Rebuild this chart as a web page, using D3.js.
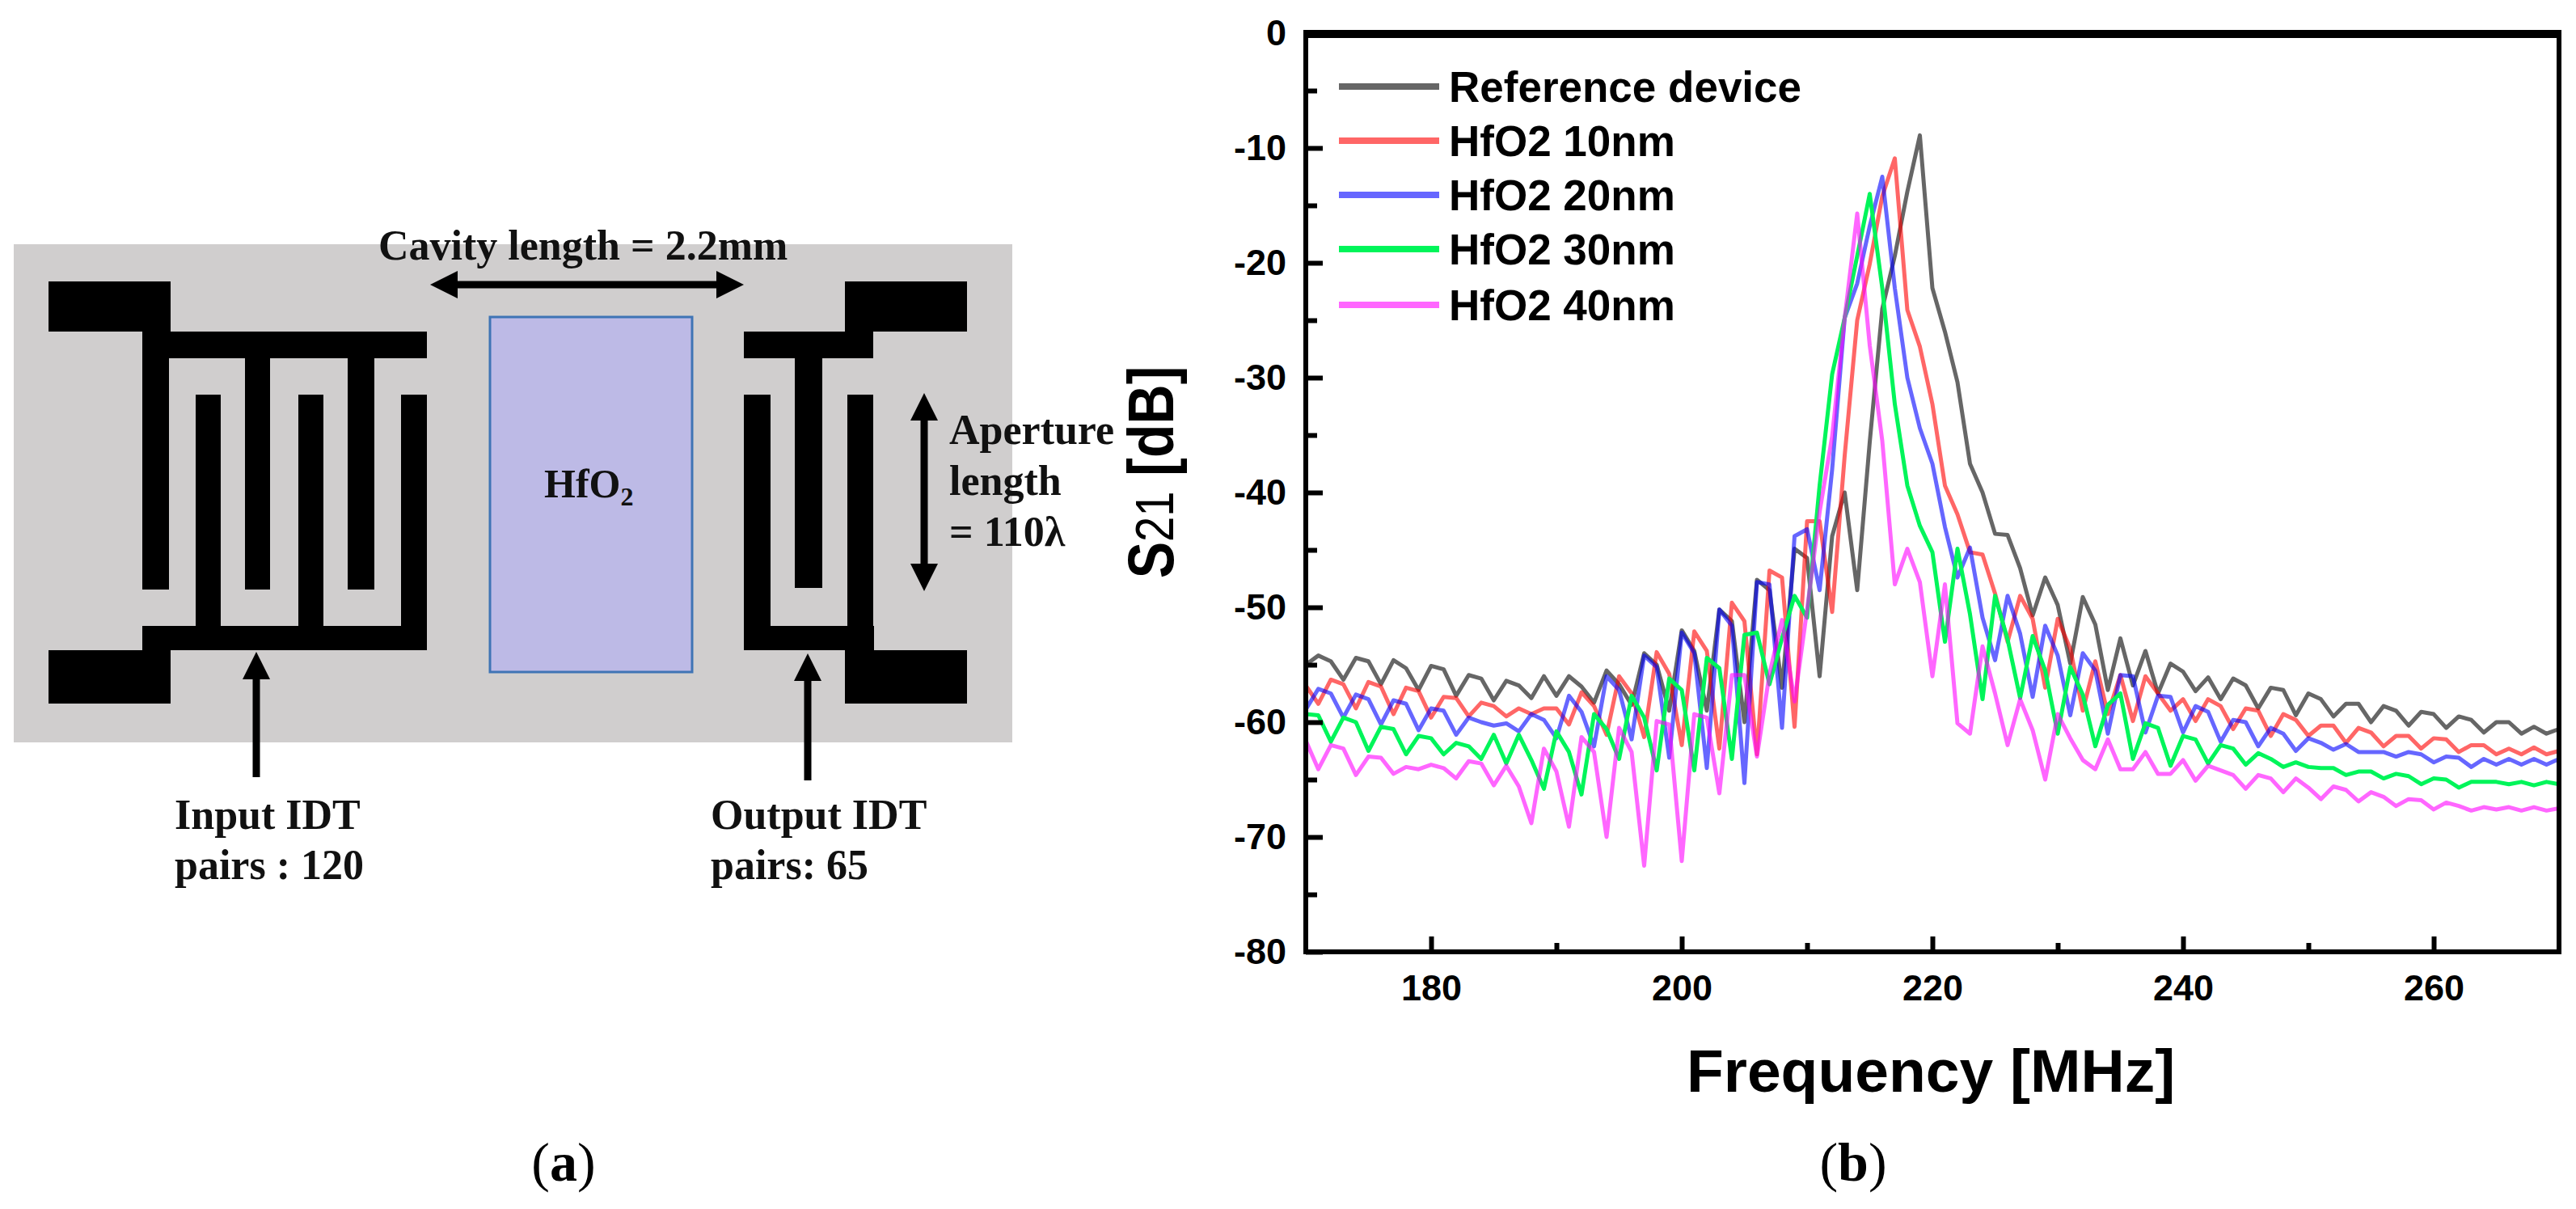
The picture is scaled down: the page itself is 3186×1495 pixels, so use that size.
<!DOCTYPE html>
<meta charset="utf-8">
<style type="text/css">
body { margin: 0; background: #fff; }
svg { display: block; }
.tick-label { font-family: "Liberation Sans", Arial, sans-serif; font-weight: bold; font-size: 45px; fill: #000; }
.legend-label { font-family: "Liberation Sans", Arial, sans-serif; font-weight: bold; font-size: 53px; fill: #000; }
.axis-title { font-family: "Liberation Sans", Arial, sans-serif; font-weight: bold; fill: #000; }
.note { font-family: "Liberation Serif", "Times New Roman", serif; font-weight: bold; font-size: 52px; fill: #111; }
.caption { font-family: "Liberation Serif", "Times New Roman", serif; font-size: 68px; fill: #000; }
.line { fill: none; stroke-width: 5; stroke-linejoin: round; }
</style>
<body>
<script src="https://cdn.jsdelivr.net/npm/d3@7"></script>
<script>

// S21 readings, one per MHz from 170 to 270
var freqStart = 170;
var reference = [
  -55,-54.2,-54.7,-56.3,-54.4,-54.7,-56.7,-54.6,-55.3,-57.2,
  -55.1,-55.4,-57.7,-55.9,-56.2,-58.1,-56.4,-56.8,-57.9,-56,
  -57.7,-56,-56.9,-58.3,-55.5,-56.7,-58.5,-54,-55,-59,
  -52,-53.8,-59,-50.2,-51.2,-60,-47.6,-48.5,-57,-44.9,
  -45.7,-56,-43.8,-40,-48.5,-35.6,-24,-19.4,-13.8,-8.9,
  -22.2,-26,-30.4,-37.5,-40,-43.6,-43.7,-46.6,-50.7,-47.4,
  -49.8,-54.9,-49.1,-51.5,-57.2,-52.7,-56.8,-53.8,-57.5,-54.9,
  -55.6,-57.3,-56.1,-58,-56.2,-56.8,-58.8,-57,-57.2,-59.4,
  -57.5,-58,-59.5,-58.4,-58.4,-60,-58.6,-59,-60.3,-59.1,
  -59.3,-60.5,-59.5,-59.8,-60.9,-60,-60,-61,-60.4,-61,
  -60.6];
var hfo10 = [
  -56.8,-58.4,-56.3,-56.7,-58.8,-56.5,-56.9,-59.3,-57,-57.3,
  -59.6,-57.8,-57.9,-59.5,-58.3,-58.6,-59.5,-58.8,-59.3,-58.8,
  -58.8,-60.2,-57.4,-58.6,-61.1,-56,-57.5,-61.3,-53.9,-55.8,
  -62,-52.1,-53.8,-62.3,-49.6,-51.2,-62.8,-46.8,-47.4,-60.4,
  -42.5,-42.5,-50.4,-36.8,-25,-20.1,-14.2,-10.9,-24.1,-27.3,
  -32.3,-39.4,-41.9,-45.2,-45.4,-48.8,-53,-49,-51,-57,
  -51,-53.6,-59,-54.7,-59.3,-55.9,-59.9,-56,-57.5,-59,
  -58,-59.9,-58,-58.6,-60.6,-58.8,-59,-61.2,-59.3,-59.8,
  -61.2,-60.3,-60.3,-61.8,-60.5,-60.9,-62.1,-61.2,-61.2,-62.3,
  -61.4,-61.5,-62.6,-62,-62,-62.8,-62.3,-62.8,-62.2,-62.8,
  -62.5];
var hfo20 = [
  -58.9,-57.1,-57.5,-59.6,-57.6,-58,-60.2,-58.1,-58.4,-60.7,
  -58.8,-59,-61.1,-59.6,-60,-60.3,-60.1,-60.8,-59.3,-59.8,
  -61.4,-57.7,-59.1,-62.1,-56,-57.2,-61.5,-54.2,-55.2,-63.1,
  -52.2,-54,-64,-50.2,-51.6,-65.3,-47.8,-48,-60.5,-43.8,
  -43.2,-48.5,-38,-24.8,-21.8,-16.8,-12.5,-22.2,-30,-34.4,
  -37.5,-43,-47.4,-44.8,-50.9,-54.6,-49,-52.3,-57.8,-51.6,
  -54.2,-59.4,-54,-55.5,-61,-55.9,-56,-60.9,-57.7,-57.8,
  -60.9,-58.6,-59.1,-61.7,-59.8,-60,-62.1,-60.5,-61,-62.5,
  -61.4,-61.8,-62.4,-61.9,-62.6,-62.6,-62.6,-63,-62.6,-62.8,
  -63.5,-63,-63.1,-63.9,-63.2,-63.7,-63.2,-63.7,-63.2,-63.7,
  -63.2];
var hfo30 = [
  -59.3,-59.4,-61.7,-59.6,-60,-62.5,-60.4,-60.6,-62.8,-61.2,
  -61.4,-62.8,-61.8,-62.1,-63.2,-61.1,-63.6,-61.1,-63.3,-65.8,
  -60.8,-62.6,-66.3,-59.3,-60.6,-63.2,-57.7,-59.6,-64.2,-56.2,
  -57.2,-64.2,-54.4,-55.3,-63.2,-52.4,-52.2,-56.7,-52.7,-49,
  -50.9,-39.4,-29.7,-24.8,-19.4,-14,-22.2,-32.3,-39.4,-42.9,
  -45.2,-53,-44.9,-50.6,-58,-49,-52.8,-57.9,-52.5,-55.5,
  -61,-55.2,-57.6,-62.1,-58.5,-57.5,-63.2,-60.1,-60.5,-63.8,
  -61.2,-61.5,-63.6,-62,-62.3,-63.7,-62.7,-63.2,-63.9,-63.5,
  -63.9,-64,-64,-64.6,-64.3,-64.3,-64.9,-64.5,-64.7,-65.4,
  -64.9,-65,-65.7,-65.2,-65.2,-65.2,-65.4,-65.2,-65.5,-65.2,
  -65.4];
var hfo40 = [
  -61.6,-64.1,-62,-62.3,-64.6,-63,-63.1,-64.5,-63.9,-64.1,
  -63.7,-64,-64.9,-63.4,-63.6,-65.5,-63.8,-65.6,-68.8,-62.3,
  -64.3,-69.1,-61.3,-62.6,-70,-60.5,-62.6,-72.5,-59.9,-60.2,
  -72.1,-59.3,-59.6,-66.2,-55.9,-55.9,-63,-55.8,-51.1,-58.2,
  -50.2,-41.7,-35.1,-24.8,-15.7,-27.2,-35.5,-48,-44.9,-47.8,
  -56,-48,-60.1,-61,-53.4,-57.5,-62,-58,-60.7,-65,
  -59.3,-61.4,-63.3,-64.1,-61.5,-64.1,-64.1,-62.6,-64.5,-64.5,
  -63.3,-65.1,-63.8,-64.2,-64.6,-65.8,-64.6,-64.9,-66.1,-64.9,
  -65.7,-66.7,-65.6,-65.9,-66.9,-66.1,-66.5,-67.3,-66.7,-66.8,
  -67.6,-67,-67.3,-67.7,-67.4,-67.6,-67.4,-67.7,-67.4,-67.7,
  -67.5];

var seriesNames = ["Reference device", "HfO2 10nm", "HfO2 20nm", "HfO2 30nm", "HfO2 40nm"];
var seriesValues = [reference, hfo10, hfo20, hfo30, hfo40];
var seriesColors = ["#000000", "#ff0000", "#0000ff", "#00f55a", "#ff00ff"];
var seriesOpacity = [0.6, 0.6, 0.6, 1, 0.6];

var xMajor = [180, 200, 220, 240, 260];
var xMinor = [190, 210, 230, 250];
var yMajor = [0, -10, -20, -30, -40, -50, -60, -70, -80];
var yMinor = [-5, -15, -25, -35, -45, -55, -65, -75];

var svg = d3.select("body").append("svg").attr("width", 3186).attr("height", 1495);

// ---------- panel (b)
var xScale = d3.scaleLinear().domain([170, 270]).range([1615, 3165]);
var yScale = d3.scaleLinear().domain([0, -80]).range([41, 1177]);

var line = d3.line()
  .x(function(d, i) { return xScale(freqStart + i); })
  .y(function(d) { return yScale(d); });

var chart = svg.append("g");
seriesValues.forEach(function(values, i) {
  chart.append("path").datum(values).attr("class", "line")
    .attr("stroke", seriesColors[i]).attr("stroke-opacity", seriesOpacity[i])
    .attr("d", line);
});

function tickStyle(g, thick) {
  g.select(".domain").remove();
  g.selectAll(".tick line").attr("stroke", "#000").attr("stroke-width", thick);
}

// axes, ticks point inward
svg.append("g").attr("transform", "translate(1615,0)")
  .call(d3.axisLeft(yScale).tickValues(yMajor).tickSize(-21).tickPadding(24).tickFormat(function(d) { return String(d); }))
  .call(tickStyle, 6)
  .selectAll("text").attr("class", "tick-label").attr("font-family", null).attr("font-size", null);
svg.append("g").attr("transform", "translate(1615,0)")
  .call(d3.axisLeft(yScale).tickValues(yMinor).tickSize(-14).tickFormat(""))
  .call(tickStyle, 6);
svg.append("g").attr("transform", "translate(0,1177)")
  .call(d3.axisBottom(xScale).tickValues(xMajor).tickSize(-19).tickPadding(28).tickFormat(function(d) { return String(d); }))
  .call(tickStyle, 6)
  .selectAll("text").attr("class", "tick-label").attr("font-family", null).attr("font-size", null);
svg.append("g").attr("transform", "translate(0,1177)")
  .call(d3.axisBottom(xScale).tickValues(xMinor).tickSize(-11).tickFormat(""))
  .call(tickStyle, 6);

// frame, the top edge is heavier in the original
svg.append("rect").attr("x", 1612).attr("y", 37).attr("width", 1555).attr("height", 10).attr("fill", "#000");
svg.append("rect").attr("x", 1612).attr("y", 37).attr("width", 6).attr("height", 1143).attr("fill", "#000");
svg.append("rect").attr("x", 3162).attr("y", 37).attr("width", 6).attr("height", 1143).attr("fill", "#000");
svg.append("rect").attr("x", 1612).attr("y", 1174).attr("width", 1556).attr("height", 6).attr("fill", "#000");

// legend
var legendY = [107, 174, 241, 308, 377];
seriesNames.forEach(function(name, i) {
  svg.append("line").attr("x1", 1656).attr("x2", 1780).attr("y1", legendY[i]).attr("y2", legendY[i])
    .attr("stroke", seriesColors[i]).attr("stroke-opacity", seriesOpacity[i]).attr("stroke-width", 8);
  svg.append("text").attr("class", "legend-label").attr("x", 1792).attr("y", legendY[i] + 19).text(name);
});

// axis titles, squeezed along the reading direction like the original
var yTitle = svg.append("text").attr("class", "axis-title")
  .attr("transform", "translate(1451,584) rotate(-90) scale(0.85,1)")
  .attr("text-anchor", "middle").style("font-size", "80px");
yTitle.append("tspan").text("S");
yTitle.append("tspan").style("font-weight", "normal").style("font-size", "66px").text("21");
yTitle.append("tspan").text(" [dB]");

svg.append("text").attr("class", "axis-title")
  .attr("x", 2388).attr("y", 1350).attr("text-anchor", "middle").style("font-size", "75px")
  .text("Frequency [MHz]");

// ---------- panel (a), device sketch
var sketch = svg.append("g");
sketch.append("rect").attr("x", 17).attr("y", 302).attr("width", 1235).attr("height", 616).attr("fill", "#d0cece");

// electrodes as [x0, y0, x1, y1]
var electrodes = [
  [60,348,211,410], [176,410,528,443], [176,443,209,729], [303,443,334,729], [430,443,463,729],
  [60,804,211,870], [176,774,528,804], [242,488,273,774], [369,488,400,774], [496,488,528,774],
  [1045,348,1196,410], [920,410,1080,443], [983,443,1017,727],
  [1045,804,1196,870], [920,774,1081,804], [920,488,953,774], [1048,488,1080,774]
];
electrodes.forEach(function(r) {
  sketch.append("rect").attr("x", r[0]).attr("y", r[1]).attr("width", r[2] - r[0]).attr("height", r[3] - r[1]).attr("fill", "#000");
});
sketch.append("rect").attr("x", 606).attr("y", 392).attr("width", 250).attr("height", 439)
  .attr("fill", "#bdbae6").attr("stroke", "#3f74b5").attr("stroke-width", 3);

var defs = svg.append("defs");
var headLength = 34;
defs.append("marker").attr("id", "head").attr("viewBox", "0 0 10 10").attr("refX", 0).attr("refY", 5)
  .attr("markerWidth", headLength).attr("markerHeight", headLength).attr("markerUnits", "userSpaceOnUse")
  .attr("orient", "auto-start-reverse")
  .append("path").attr("d", "M0,0L10,5L0,10Z").attr("fill", "#000");

// tips land on the given points, the shaft stops at the head
function arrow(x1, y1, x2, y2, both) {
  var len = Math.hypot(x2 - x1, y2 - y1), ux = (x2 - x1) / len, uy = (y2 - y1) / len;
  var a = sketch.append("line")
    .attr("x1", both ? x1 + ux * headLength : x1).attr("y1", both ? y1 + uy * headLength : y1)
    .attr("x2", x2 - ux * headLength).attr("y2", y2 - uy * headLength)
    .attr("stroke", "#000").attr("stroke-width", 9).attr("marker-end", "url(#head)");
  if (both) a.attr("marker-start", "url(#head)");
}
arrow(532, 352, 920, 352, true);
arrow(1143, 486, 1143, 731, true);
arrow(317, 961, 317, 806, false);
arrow(999, 965, 999, 808, false);

var notes = [
  ["Cavity length = 2.2mm", 468, 321], ["Aperture", 1174, 549], ["length", 1174, 612], ["= 110λ", 1174, 675],
  ["Input IDT", 216, 1025], ["pairs : 120", 216, 1087], ["Output IDT", 879, 1025], ["pairs: 65", 879, 1087]
];
notes.forEach(function(n) {
  svg.append("text").attr("class", "note").attr("x", n[1]).attr("y", n[2]).text(n[0]);
});
var hf = svg.append("text").attr("class", "note").attr("x", 673).attr("y", 615).style("font-size", "50px");
hf.append("tspan").text("HfO");
hf.append("tspan").attr("dy", 10).style("font-size", "32px").text("2");

// panel captions
function caption(letter, x) {
  var c = svg.append("text").attr("class", "caption").attr("x", x).attr("y", 1460).attr("text-anchor", "middle");
  c.append("tspan").text("(");
  c.append("tspan").style("font-weight", "bold").text(letter);
  c.append("tspan").text(")");
}
caption("a", 697);
caption("b", 2292);

</script>
</body>
